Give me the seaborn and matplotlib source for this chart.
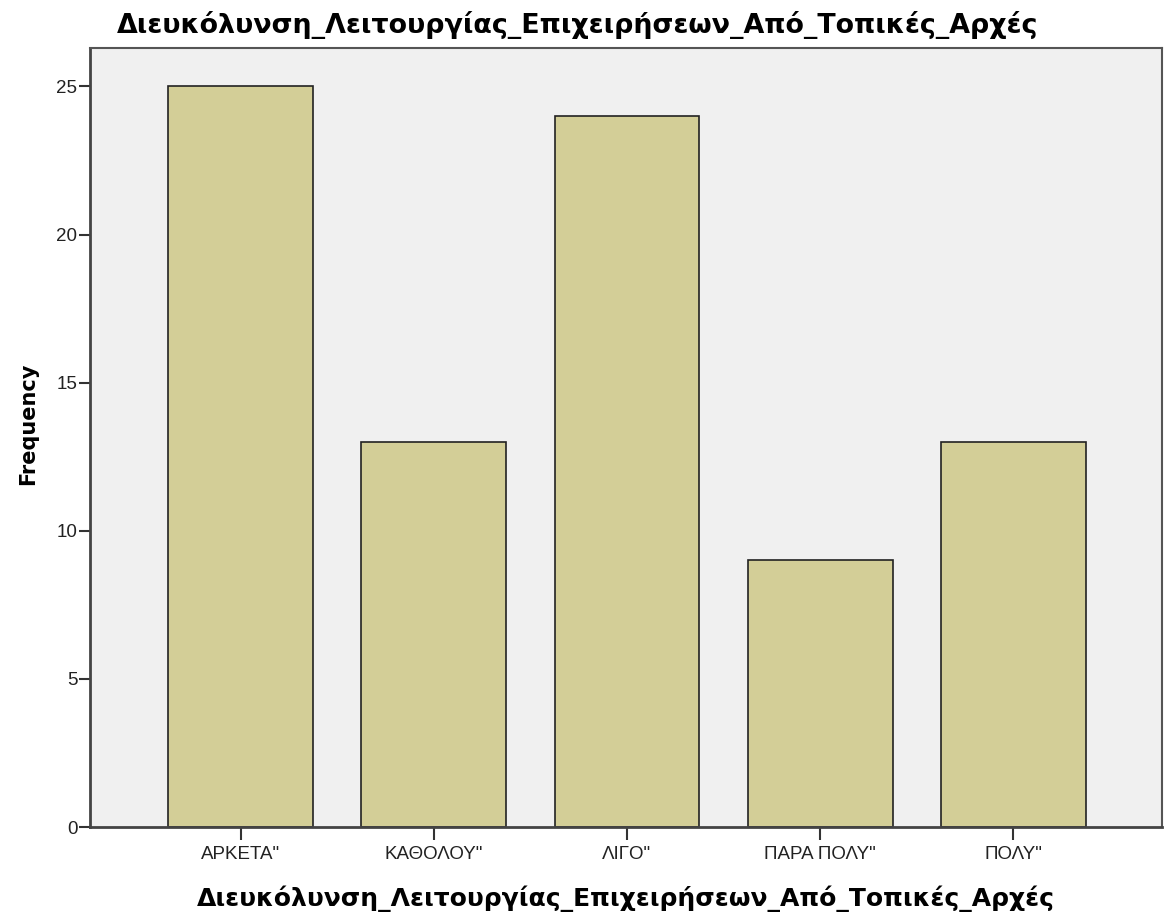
import numpy as np
import pandas as pd
import matplotlib
matplotlib.use('Agg')
import matplotlib.pyplot as plt
import seaborn as sns

# categories and counts
categories = ['ΑΡΚΕΤΑ"', 'ΚΑΘΟΛΟΥ"', 'ΛΙΓΟ"', 'ΠΑΡΑ ΠΟΛΥ"', 'ΠΟΛΥ"']
frequencies = [25, 13, 24, 9, 13]
yticks = [0, 5, 10, 15, 20, 25]
var_name = 'Διευκόλυνση_Λειτουργίας_Επιχειρήσεων_Από_Τοπικές_Αρχές'

df = pd.DataFrame({'category': categories, 'freq': frequencies})

sns.set_style('white')
plt.rcParams['font.family'] = ['DejaVu Sans']
plt.rcParams['text.color'] = 'black'
plt.rcParams['axes.labelcolor'] = 'black'
plt.rcParams['xtick.color'] = 'black'
plt.rcParams['ytick.color'] = 'black'

fig = plt.figure(figsize=(11.64, 9.22), dpi=100)
ax = fig.add_axes([0.0773, 0.103, 0.921, 0.845])
ax.set_facecolor('#F0F0F0')

sns.barplot(data=df, x='category', y='freq', order=categories, color='#D3CE97',
            width=0.75, edgecolor='#222222', linewidth=1.2, saturation=1, ax=ax)

ax.set_xlim(-0.78, 4.77)
ax.set_ylim(0, 26.3)
ax.set_yticks(yticks)
ax.set_yticklabels([str(v) for v in yticks], fontsize=13.5, family='Liberation Sans', color='#222222')
ax.set_xticklabels(categories, fontsize=13.5, family='Liberation Sans', color='#222222')
ax.tick_params(axis='y', direction='out', length=8, width=1.5, color='#333333', pad=1, left=True)
ax.tick_params(axis='x', direction='out', length=9, width=1.5, color='#333333', pad=5, bottom=True)

for side in ['left', 'bottom']:
    ax.spines[side].set_color('#444444')
    ax.spines[side].set_linewidth(2)
for side in ['top', 'right']:
    ax.spines[side].set_color('#555555')
    ax.spines[side].set_linewidth(1.5)

ax.set_ylabel('Frequency', fontsize=15, fontweight='bold')
ax.yaxis.set_label_coords(-0.048, 0.517)
ax.set_xlabel(var_name, fontsize=18, fontweight='bold', va='baseline')
ax.xaxis.set_label_coords(0.5, -0.1014)

# the title is centred on the whole figure
fig.text(0.4966, 0.9642, var_name, fontsize=19.4, fontweight='bold',
         ha='center', va='baseline')

fig.savefig('out.png', dpi=100)
